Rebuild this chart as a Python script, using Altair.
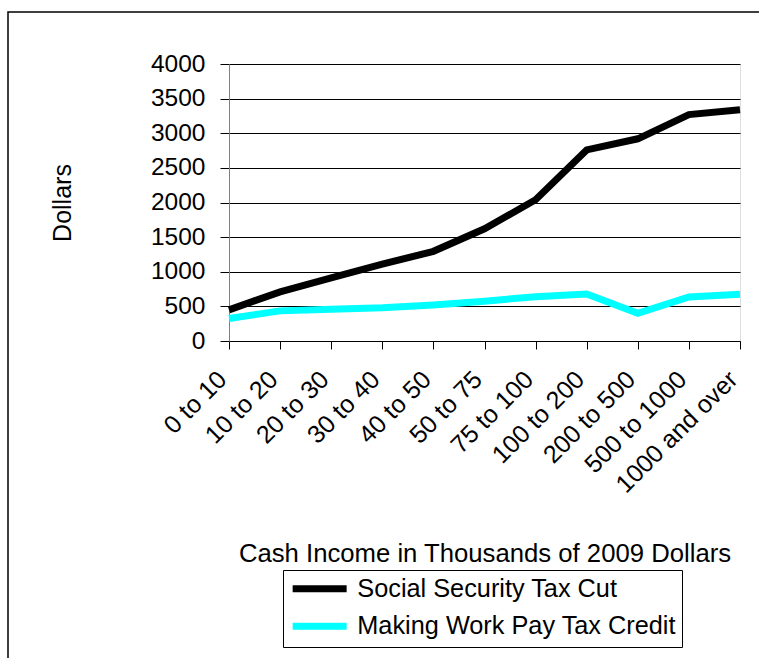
import altair as alt
import pandas as pd

categories = ["0 to 10", "10 to 20", "20 to 30", "30 to 40", "40 to 50", "50 to 75",
              "75 to 100", "100 to 200", "200 to 500", "500 to 1000", "1000 and over"]
social_security = [450, 710, 910, 1110, 1295, 1620, 2040, 2760, 2920, 3270, 3340]
making_work_pay = [325, 435, 460, 480, 520, 575, 640, 680, 400, 635, 675]
series_names = ["Social Security Tax Cut", "Making Work Pay Tax Credit"]
y_ticks = [0, 500, 1000, 1500, 2000, 2500, 3000, 3500, 4000]

rows = []
for c, v in zip(categories, social_security):
    rows.append({"cat": c, "value": v, "series": series_names[0]})
for c, v in zip(categories, making_work_pay):
    rows.append({"cat": c, "value": v, "series": series_names[1]})
df = pd.DataFrame(rows)

FONT = "Liberation Sans"

lines = alt.Chart(df).mark_line(strokeWidth=7, strokeCap="butt", strokeJoin="miter").encode(
    x=alt.X("cat:N", sort=categories, scale=alt.Scale(padding=0),
            axis=alt.Axis(title="Cash Income in Thousands of 2009 Dollars",
                          labelAngle=-45, labelAlign="right", labelBaseline="middle",
                          labelPadding=26, labelOffset=-7, tickSize=8, tickColor="black",
                          domainColor="black", labelFontSize=25, labelColor="black",
                          labelFont=FONT, titleFont=FONT, titleFontSize=25.7,
                          titleFontWeight="normal", titleColor="black", labelLimit=400,
                          titleY=220, titleBaseline="alphabetic", grid=False)),
    y=alt.Y("value:Q", scale=alt.Scale(domain=[0, 4000]),
            axis=alt.Axis(title="Dollars", values=y_ticks, format="d", tickSize=9,
                          tickColor="black", domainColor="#808080", gridColor="black",
                          gridWidth=1, labelFontSize=24.5, labelColor="black", labelPadding=15,
                          labelFont=FONT, titleFont=FONT, titleFontSize=25,
                          titleFontWeight="normal", titleColor="black",
                          titleX=-167, titleY=138.5, titleBaseline="middle")),
    color=alt.Color("series:N", scale=alt.Scale(domain=series_names, range=["black", "#00FFFF"]),
                    legend=alt.Legend(title=None, orient="none", legendX=54, legendY=506,
                                      strokeColor="black", padding=6, rowPadding=8.5,
                                      symbolType="M-1,0H5", symbolStrokeWidth=7,
                                      symbolSize=324, labelFontSize=25.3, labelFont=FONT,
                                      labelColor="black", labelOffset=43, labelLimit=500,
                                      cornerRadius=0, fillColor="white")),
)

frame = alt.Chart(alt.Data(values=[{}])).mark_rect(fill=None, stroke="black", strokeWidth=1.5).encode(
    x=alt.value(-221), x2=alt.value(800), y=alt.value(-52), y2=alt.value(800)
)

chart = alt.layer(frame, lines).properties(
    width=511, height=277, autosize="none",
    padding={"left": 229, "top": 64, "right": 19, "bottom": 317},
).configure_view(stroke=None).configure(background="white")

chart.save("out.html", embed_options={"renderer": "svg", "actions": False})
